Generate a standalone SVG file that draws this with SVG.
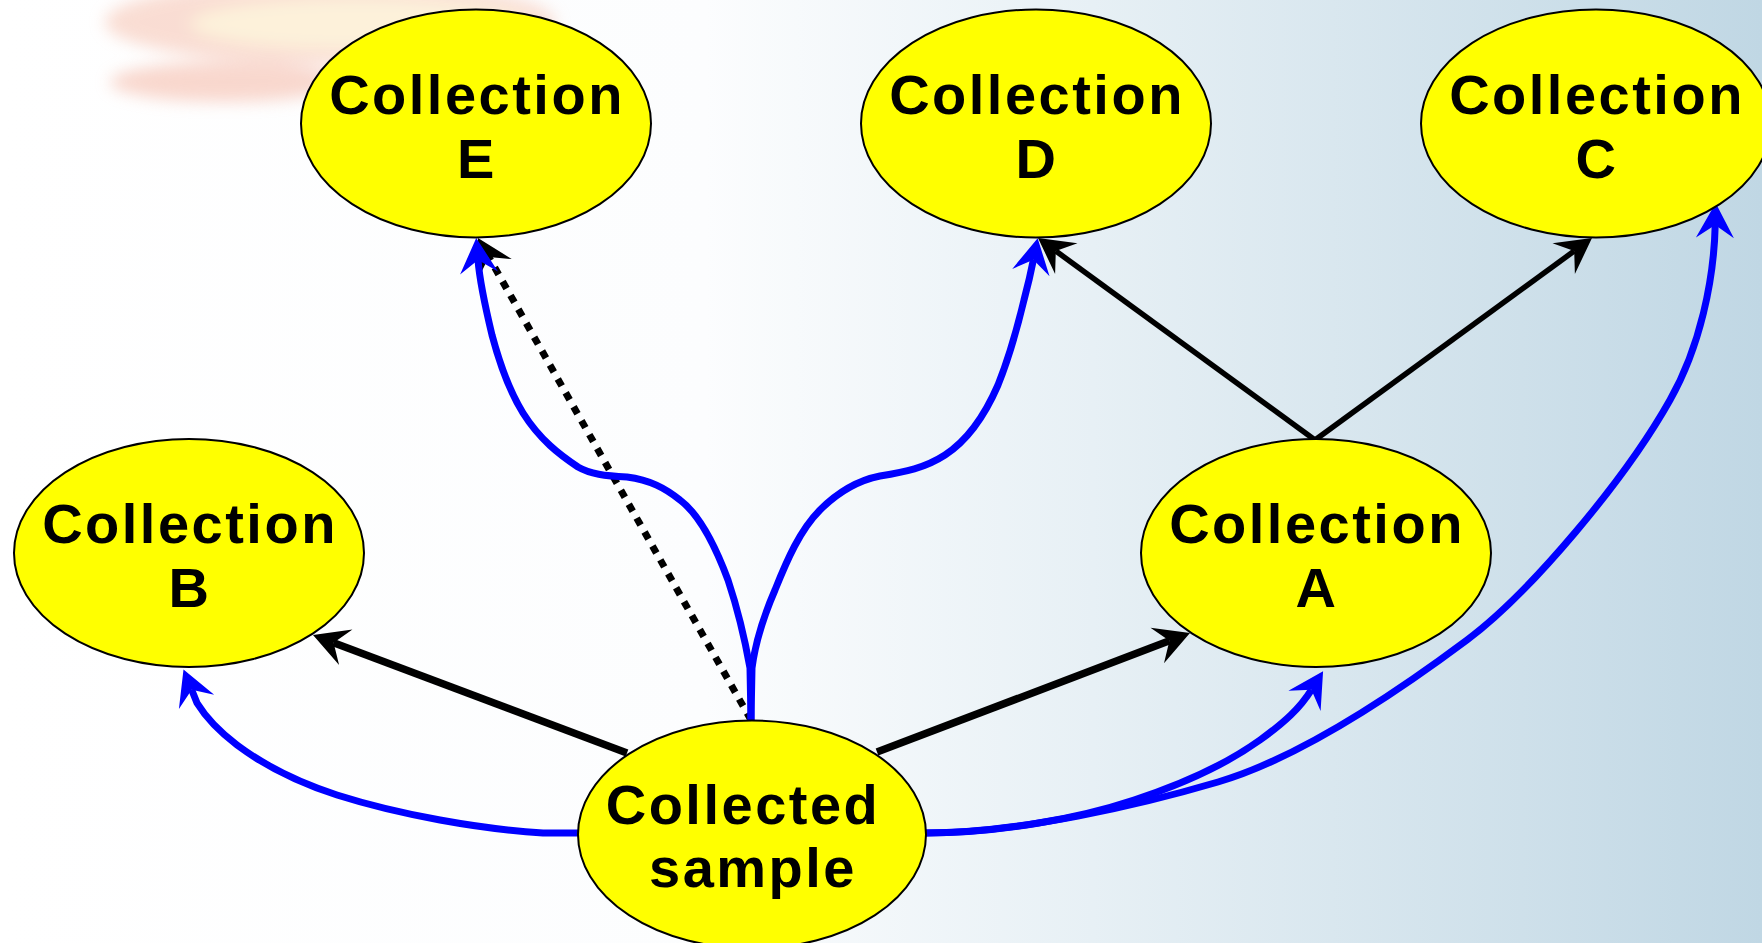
<svg xmlns="http://www.w3.org/2000/svg" width="1762" height="943" viewBox="0 0 1762 943">
  <defs>
    <linearGradient id="bg" x1="0" y1="0" x2="1" y2="0">
      <stop offset="0" stop-color="#ffffff"/>
      <stop offset="0.4" stop-color="#fcfdfe"/>
      <stop offset="0.62" stop-color="#e7f0f5"/>
      <stop offset="1" stop-color="#c0d7e4"/>
    </linearGradient>
    <filter id="soft" x="-30%" y="-80%" width="160%" height="260%">
      <feGaussianBlur stdDeviation="8"/>
    </filter>
    <marker id="headBlack" markerUnits="userSpaceOnUse" markerWidth="80" markerHeight="80" refX="0" refY="0" orient="auto" overflow="visible">
      <path d="M22,0 L-13,-19 L0,0 L-13,19 Z" fill="#000"/>
    </marker>
    <marker id="headBlue" markerUnits="userSpaceOnUse" markerWidth="80" markerHeight="80" refX="0" refY="0" orient="auto" overflow="visible">
      <path d="M22,0 L-13,-19 L0,0 L-13,19 Z" fill="#0000ff"/>
    </marker>
  </defs>
  <style>
    .node ellipse { fill: #ffff00; stroke: #000; stroke-width: 2; }
    .node text { font-family: "Liberation Sans", Arial, sans-serif; font-weight: bold; font-size: 56px; letter-spacing: 2.5px; fill: #000; text-anchor: middle; }
    .solid { fill: none; stroke: #000; marker-end: url(#headBlack); }
    .dotted { fill: none; stroke: #000; stroke-width: 7; stroke-dasharray: 8 8; marker-end: url(#headBlack); }
    .blue { fill: none; stroke: #0000ff; stroke-width: 7; stroke-linejoin: round; marker-end: url(#headBlue); }
  </style>

  <!-- backdrop -->
  <rect x="0" y="0" width="1762" height="943" fill="url(#bg)"/>
  <g filter="url(#soft)" opacity="0.55">
    <ellipse cx="330" cy="22" rx="225" ry="42" fill="#f6c2b0"/>
    <ellipse cx="225" cy="82" rx="115" ry="20" fill="#f4b8a6"/>
    <ellipse cx="360" cy="24" rx="170" ry="26" fill="#fde7bd"/>
  </g>

  <!-- connectors -->
  <g id="edges">
    <path class="solid" stroke-width="7.5" d="M627,753 L333.6,642.7"/>
    <path class="solid" stroke-width="7.5" d="M877,752 L1169.4,640.8"/>
    <path class="solid" stroke-width="5.5" d="M1315,440 L1055.8,251"/>
    <path class="solid" stroke-width="5.5" d="M1315,440 L1574.2,251"/>
    <path class="dotted" d="M751,720 L488.8,257.1"/>

    <path class="blue" d="M578,833 L543,833 C480,829 400,815 337,795 C300,783 265,766 237,745 C220,732 205,716 197,703 L191.7,689.8"/>
    <path class="blue" d="M751,720 L750,668 C745,640 738,610 728,580 C715,545 700,515 680,500 C665,488 650,480 627,477 C605,476 590,474 578,467 C560,455 540,440 523,413 C510,392 500,365 492,335 C486,310 480,285 478,260"/>
    <path class="blue" d="M751,720 L752,668 C755,645 762,620 775,590 C787,560 800,530 820,510 C840,490 860,480 880,476 C905,472 925,468 945,455 C968,440 985,415 998,385 C1010,355 1018,325 1024,300 C1028,285 1031,272 1033.4,259.8"/>
    <path class="blue" d="M925,833 C1000,833 1080,818 1134,800 C1180,785 1225,765 1260,740 C1285,722 1300,708 1311.4,689.8"/>
    <path class="blue" d="M925,833 C1020,833 1140,805 1218,782 C1300,757.8 1400,690 1467,640 C1530,593 1625,480 1670,400 C1700,347 1714,280 1715.2,224.9"/>
  </g>

  <!-- nodes -->
  <g id="collection-e" class="node">
    <ellipse cx="476" cy="123.5" rx="175" ry="114"/>
    <text x="477" y="113.5">Collection</text>
    <text x="477" y="177.5">E</text>
  </g>
  <g id="collection-d" class="node">
    <ellipse cx="1036" cy="123.5" rx="175" ry="114"/>
    <text x="1037" y="113.5">Collection</text>
    <text x="1037" y="177.5">D</text>
  </g>
  <g id="collection-c" class="node">
    <ellipse cx="1596" cy="123.5" rx="175" ry="114"/>
    <text x="1597" y="113.5">Collection</text>
    <text x="1597" y="177.5">C</text>
  </g>
  <g id="collection-b" class="node">
    <ellipse cx="189" cy="553" rx="175" ry="114"/>
    <text x="190" y="543">Collection</text>
    <text x="190" y="607">B</text>
  </g>
  <g id="collection-a" class="node">
    <ellipse cx="1316" cy="553" rx="175" ry="114"/>
    <text x="1317" y="543">Collection</text>
    <text x="1317" y="607">A</text>
  </g>
  <g id="collected-sample" class="node">
    <ellipse cx="752" cy="834.5" rx="174" ry="114"/>
    <text x="743" y="824">Collected</text>
    <text x="753" y="887">sample</text>
  </g>
</svg>
